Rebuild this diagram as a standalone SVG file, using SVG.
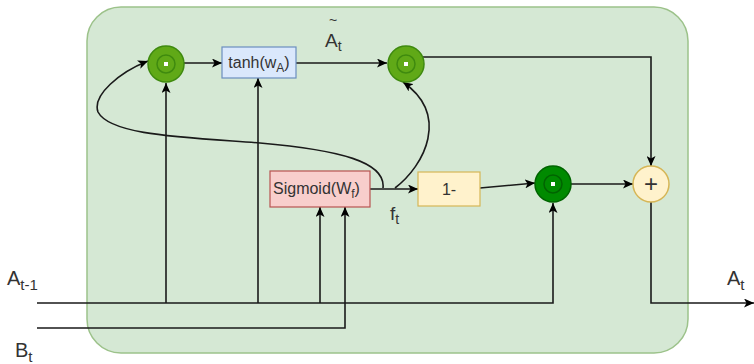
<svg xmlns="http://www.w3.org/2000/svg" width="754" height="364" viewBox="0 0 754 364">
<defs>
<marker id="arr" markerWidth="11" markerHeight="9" refX="10" refY="4.5" orient="auto" markerUnits="userSpaceOnUse">
<path d="M0,0 L10,4.5 L0,9 L2.5,4.5 Z" fill="#000"/>
</marker>
<style>
.c{fill:none;stroke:#1a1a1a;stroke-width:1.6}
.a{marker-end:url(#arr)}
.t{font-family:"Liberation Sans",Arial,sans-serif;fill:#333}
.g1{fill:#60a917;stroke:#3f8a0f;stroke-width:1.5}
.g1i{fill:none;stroke:#3f8a0f;stroke-width:1.5}
.g2{fill:#008a00;stroke:#006400;stroke-width:1.5}
.g2i{fill:none;stroke:#006400;stroke-width:1.5}
.dot{fill:#fff}
</style>
</defs>
<rect x="87" y="7" width="601" height="346" rx="34" ry="34" fill="#d5e8d4" stroke="#9cc28a" stroke-width="1.5"/>

<g id="connectors">
<path class="c a" d="M184 63 L222 63"/>
<path class="c a" d="M296 63 L387 63"/>
<path class="c a" d="M423 57 L651 57 L651 166"/>
<path class="c a" d="M37 303 L553 303 L553 203"/>
<path class="c a" d="M37 328 L345 328 L345 207"/>
<path class="c a" d="M166 303 L166 83"/>
<path class="c a" d="M258 303 L258 78"/>
<path class="c a" d="M320 303 L320 207"/>
<path class="c a" d="M370 189 L418 189"/>
<path class="c a" d="M480 188 L535 183"/>
<path class="c a" d="M571 184 L633 184"/>
<path class="c a" d="M651 202 L651 303 L754 303"/>
<path class="c a" d="M383 188 C386 162 340 150 260 143 C180 137 110 135 98 112 C92 95 120 72 148 61"/>
<path class="c a" d="M395 188 C425 165 450 115 403 82"/>
</g>

<g id="mul1">
<circle class="g1" cx="166" cy="64" r="18"/>
<circle class="g1i" cx="166" cy="64" r="9"/>
<rect class="dot" x="164" y="62" width="4" height="4"/>
</g>
<g id="tanh">
<rect x="222" y="47" width="74" height="31" fill="#dae8fc" stroke="#6c8ebf" stroke-width="1.2"/>
<text class="t" x="259" y="68" font-size="16" text-anchor="middle">tanh(w<tspan font-size="12" dy="4">A</tspan><tspan dy="-4">)</tspan></text>
</g>
<g id="mul2">
<circle class="g1" cx="406" cy="64" r="18"/>
<circle class="g1i" cx="406" cy="64" r="9"/>
<rect class="dot" x="404" y="62" width="4" height="4"/>
</g>
<g id="atilde">
<text class="t" x="333" y="25" font-size="14" text-anchor="middle">~</text>
<text class="t" x="325" y="47" font-size="19">A<tspan font-size="14" dy="4">t</tspan></text>
</g>
<g id="sigmoid">
<rect x="270" y="171" width="100" height="36" fill="#f8cecc" stroke="#b85450" stroke-width="1.2"/>
<text class="t" x="273" y="194" font-size="16">Sigmoid(W<tspan font-size="12" dy="4">f</tspan><tspan dy="-4">)</tspan></text>
</g>
<g id="ft">
<text class="t" x="390" y="220" font-size="19">f<tspan font-size="14" dy="4">t</tspan></text>
</g>
<g id="oneminus">
<rect x="418" y="172" width="62" height="34" fill="#fff2cc" stroke="#d6b656" stroke-width="1.2"/>
<text class="t" x="449" y="195" font-size="16" text-anchor="middle">1-</text>
</g>
<g id="mul3">
<circle class="g2" cx="553" cy="184" r="18"/>
<circle class="g2i" cx="553" cy="184" r="9"/>
<rect class="dot" x="551" y="182" width="4" height="4"/>
</g>
<g id="plus">
<circle cx="651" cy="184" r="18" fill="#fff2cc" stroke="#d6b656" stroke-width="1.5"/>
<text class="t" x="651" y="192" font-size="24" text-anchor="middle" fill="#222">+</text>
</g>
<g id="labels">
<text class="t" x="7" y="285" font-size="20">A<tspan font-size="15" dy="5">t-1</tspan></text>
<text class="t" x="15" y="357" font-size="20">B<tspan font-size="15" dy="5">t</tspan></text>
<text class="t" x="727" y="285" font-size="20">A<tspan font-size="15" dy="5">t</tspan></text>
</g>
</svg>
